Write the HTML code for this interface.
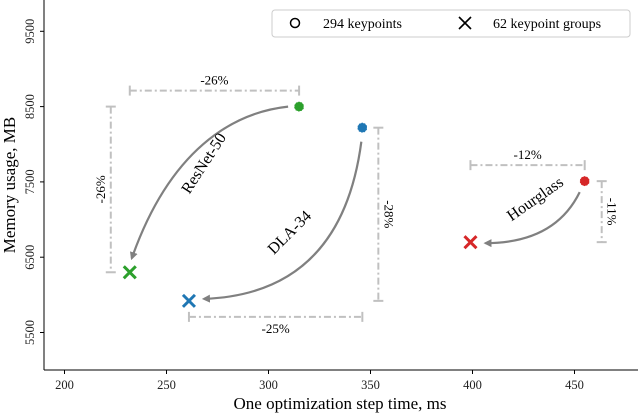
<!DOCTYPE html>
<html><head><meta charset="utf-8"><style>
body{margin:0;background:#fff}
svg{font-family:"Liberation Serif",serif}
</style></head><body>
<svg id="c" width="640" height="414" viewBox="0 0 640 414">
<defs><marker id="ah" markerWidth="8" markerHeight="8" refX="6" refY="4" orient="auto" markerUnits="userSpaceOnUse"><path d="M0,0 L8,4 L0,8 z" fill="#808080"/></marker></defs>
<g id="axes"></g>
<g id="marks"></g>
<g>
<rect x="272" y="10" width="358" height="27" rx="3" fill="#fff" stroke="#ccc"/>
<circle cx="295" cy="23" r="4.5" fill="none" stroke="#000" stroke-width="1.5"/>
<text x="323" y="28" font-size="14">294 keypoints</text>
<path d="M459,17 L471,29 M471,17 L459,29" stroke="#000" stroke-width="1.6"/>
<text x="493" y="28" font-size="14">62 keypoint groups</text>
</g>
</svg>
<script>
const models=["ResNet-50","DLA-34","Hourglass"];
const colors=["#2ca02c","#1f77b4","#d62728"];
const timeFull=[315,346,455];
const memFull=[8500,8220,7510];
const timeGroups=[232,261,399];
const memGroups=[6300,5920,6700];
const timePct=["-26%","-25%","-12%"];
const memPct=["-26%","-28%","-11%"];
const xTicks=[200,250,300,350,400,450];
const yTicks=[5500,6500,7500,8500,9500];
const X=v=>64.5+(v-200)*2.04;
const Y=v=>332.5-(v-5500)*0.0753;
const NS="http://www.w3.org/2000/svg";
function mk(p,t,a){const e=document.createElementNS(NS,t);for(const k in a)e.setAttribute(k,a[k]);p.appendChild(e);return e;}
const ax=document.getElementById('axes'),mg=document.getElementById('marks');
let l=mk(ax,'line',{x1:44,y1:0,x2:44,y2:370,stroke:'#000','stroke-width':1});


l=mk(ax,'line',{x1:44,y1:370,x2:638,y2:370,stroke:'#000','stroke-width':1});


xTicks.forEach(t=>{const x=X(t);mk(ax,'line',{x1:x,y1:370,x2:x,y2:374,stroke:'#000'});
const tx=mk(ax,'text',{x:x,y:389,'font-size':12.5,'text-anchor':'middle',fill:'#222'});tx.textContent=t;

});
yTicks.forEach(t=>{const y=Y(t);mk(ax,'line',{x1:40,y1:y,x2:44,y2:y,stroke:'#000'});
const tx=mk(ax,'text',{x:0,y:0,'font-size':12.5,'text-anchor':'middle',fill:'#222',transform:`translate(34,${y}) rotate(-90)`});tx.textContent=t;

});
let t=mk(ax,'text',{x:340,y:409,'font-size':17,'text-anchor':'middle'});t.textContent='One optimization step time, ms';


t=mk(ax,'text',{x:0,y:0,'font-size':17,'text-anchor':'middle',transform:'translate(15,185) rotate(-90)'});t.textContent='Memory usage, MB';


const gs={stroke:'#c0c0c0','stroke-width':2,'stroke-dasharray':'7,3,2,3',fill:'none'};
function hbr(x1,x2,y,lab,ly,name){const g=mk(mg,'g',{});


mk(g,'line',Object.assign({x1,x2,y1:y,y2:y},gs));
mk(g,'line',{x1:x1,x2:x1,y1:y-5,y2:y+5,stroke:'#c0c0c0','stroke-width':2});
mk(g,'line',{x1:x2,x2:x2,y1:y-5,y2:y+5,stroke:'#c0c0c0','stroke-width':2});
const tx=mk(g,'text',{x:(x1+x2)/2,y:ly,'font-size':13,'text-anchor':'middle'});tx.textContent=lab;}
function vbr(x,y1,y2,lab,lx,rot,name){const g=mk(mg,'g',{});


mk(g,'line',Object.assign({x1:x,x2:x,y1,y2},gs));
mk(g,'line',{x1:x-5,x2:x+5,y1:y1,y2:y1,stroke:'#c0c0c0','stroke-width':2});
mk(g,'line',{x1:x-5,x2:x+5,y1:y2,y2:y2,stroke:'#c0c0c0','stroke-width':2});
const tx=mk(g,'text',{x:0,y:0,'font-size':13,'text-anchor':'middle',transform:`translate(${lx},${(y1+y2)/2}) rotate(${rot})`});tx.textContent=lab;}
hbr(X(timeGroups[0]),X(timeFull[0]),Y(memFull[0])-16,timePct[0],Y(memFull[0])-22,'resnet-time-bracket');
vbr(X(timeGroups[0])-19,Y(memFull[0]),Y(memGroups[0]),memPct[0],X(timeGroups[0])-25,-90,'resnet-memory-bracket');
hbr(X(timeGroups[1]),X(timeFull[1]),Y(memGroups[1])+16,timePct[1],Y(memGroups[1])+32,'dla-time-bracket');
vbr(X(timeFull[1])+16,Y(memFull[1]),Y(memGroups[1]),memPct[1],X(timeFull[1])+22,90,'dla-memory-bracket');
hbr(X(timeGroups[2]),X(timeFull[2]),Y(memFull[2])-16,timePct[2],Y(memFull[2])-22,'hourglass-time-bracket');
vbr(X(timeFull[2])+17,Y(memFull[2]),Y(memGroups[2]),memPct[2],X(timeFull[2])+23,90,'hourglass-memory-bracket');
const arrowDefs=[[-11,0,2,-14],[-1,14,15,-2],[-5,11,15,1]];
const labels=[[208,166,-57],[293,236,-45],[538,203,-35]];
models.forEach((m,i)=>{const x1=X(timeFull[i]),y1=Y(memFull[i]),x2=X(timeGroups[i]),y2=Y(memGroups[i]);
const d=arrowDefs[i];const sx=x1+d[0],sy=y1+d[1],ex=x2+d[2],ey=y2+d[3];
let pd;
if(i==0){pd=`M${sx},${sy} C${sx-56},${sy+6} ${ex+38},${ey-108} ${ex},${ey}`;}
else if(i==1){pd=`M${sx},${sy} Q${sx-20},${ey-5} ${ex},${ey}`;}
else{pd=`M${sx},${sy} Q${sx-25},${ey} ${ex},${ey}`;}
const p=mk(mg,'path',{d:pd,stroke:'#808080','stroke-width':2.2,fill:'none','marker-end':'url(#ah)'});


const lb=labels[i];const tx=mk(mg,'text',{x:0,y:0,'font-size':16,'text-anchor':'middle',transform:`translate(${lb[0]},${lb[1]}) rotate(${lb[2]})`});tx.textContent=m;


const c=mk(mg,'circle',{cx:x1,cy:y1,r:5,fill:colors[i],stroke:'#fff','stroke-width':0.8,'stroke-dasharray':'1.5,1.5'});


const xm=mk(mg,'path',{d:`M${x2-6},${y2-6} L${x2+6},${y2+6} M${x2+6},${y2-6} L${x2-6},${y2+6}`,stroke:colors[i],'stroke-width':3});

});
</script>
</body></html>
